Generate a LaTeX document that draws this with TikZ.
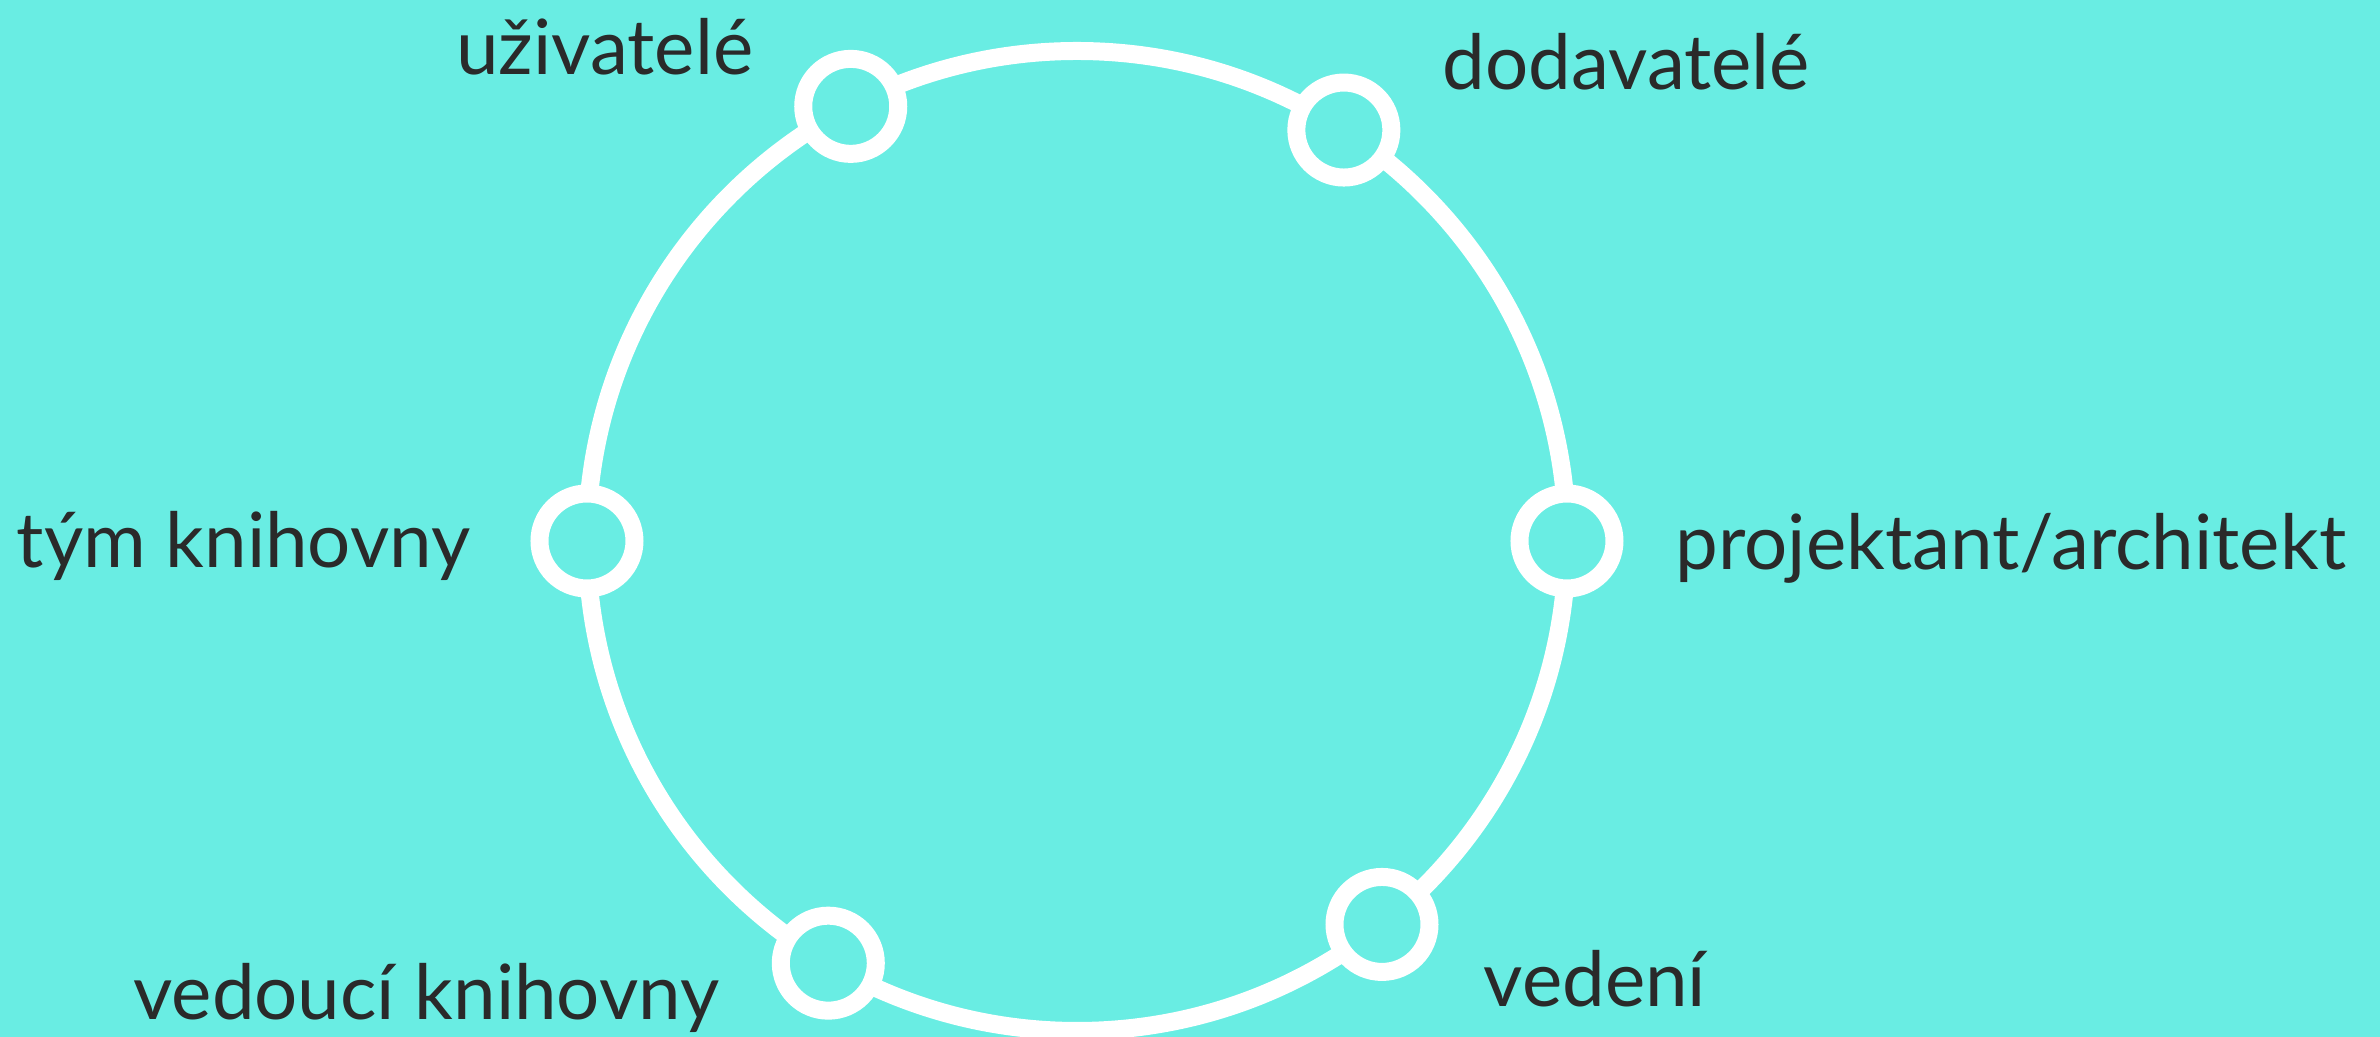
\documentclass[tikz,border=0pt]{standalone}
\usepackage{fontspec}
\setmainfont{Lato}
\definecolor{bgcyan}{HTML}{69EDE3}
\definecolor{ink}{HTML}{2A2A2A}
\tikzset{
	stop/.style={circle, draw=white, line width=1.8mm, fill=bgcyan, minimum size=0.95cm, inner sep=0pt},
	label/.style={text=ink, font=\fontsize{21.7}{24}\selectfont, inner sep=0pt}
}
\begin{document}
\begin{tikzpicture}
		% Background
		\fill[bgcyan] (-10.77, -4.96) rectangle (13.03, 5.41);
		\useasboundingbox (-10.77, -4.96) rectangle (13.03, 5.41);
		
		% Ring
		\draw[white, line width=1.8mm] (0, 0) circle (4.9);
		
		% Stops
		\node[stop] (users) at (117.5:4.9) {};
		\node[stop] (suppliers) at (57:4.9) {};
		\node[stop] (architect) at (0:4.9) {};
		\node[stop] (management) at (-51.5:4.9) {};
		\node[stop] (head) at (-120.5:4.9) {};
		\node[stop] (team) at (180:4.9) {};
		
		% Labels
		\node[label, anchor=base east] (userslabel) at (-3.23, 4.66) {uživatelé};
		\node[label, anchor=base west] (supplierslabel) at (3.65, 4.51) {dodavatelé};
		\node[label, anchor=base west] (architectlabel) at (5.98, -0.29) {projektant/architekt};
		\node[label, anchor=base west] (managementlabel) at (4.06, -4.66) {vedení};
		\node[label, anchor=base east] (headlabel) at (-3.57, -4.79) {vedoucí knihovny};
		\node[label, anchor=base east] (teamlabel) at (-6.06, -0.27) {tým knihovny};
	\end{tikzpicture}
\end{document}
